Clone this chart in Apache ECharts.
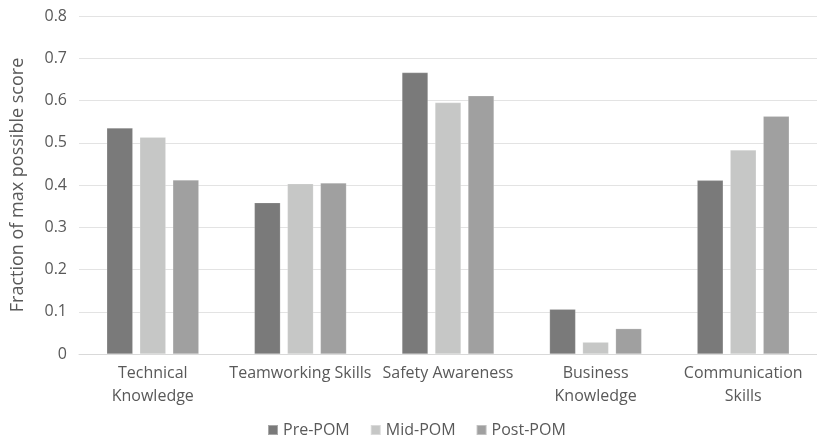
<!DOCTYPE html>
<html>
<head>
<meta charset="utf-8">
<script src="https://cdn.jsdelivr.net/npm/echarts@6/dist/echarts.min.js"></script>
<style>
  html, body { margin: 0; padding: 0; background: #fff; }
  #chart { width: 817px; height: 436px; }
</style>
</head>
<body>
<div id="chart"></div>
<script>
// Skill areas, assessed at three stages
const categories = ['Technical\nKnowledge', 'Teamworking Skills', 'Safety Awareness', 'Business\nKnowledge', 'Communication\nSkills'];
const preValues  = [0.535, 0.358, 0.666, 0.106, 0.411];
const midValues  = [0.513, 0.403, 0.595, 0.028, 0.483];
const postValues = [0.412, 0.405, 0.611, 0.060, 0.563];
const seriesNames = ['Pre-POM', 'Mid-POM', 'Post-POM'];
const yTicks = [0, 0.1, 0.2, 0.3, 0.4, 0.5, 0.6, 0.7, 0.8];

const textColor = '#595959';
const fontFamily = '"Open Sans", "Noto Sans", sans-serif';
const colors = ['#7a7a7a', '#c6c7c6', '#a0a0a0'];

const chart = echarts.init(document.getElementById('chart'));
const data = [preValues, midValues, postValues];

chart.setOption({
  animation: false,
  textStyle: { fontFamily: fontFamily, color: textColor },
  grid: { left: 79, top: 16, width: 742, height: 338 },
  legend: {
    top: 417,
    left: 262,
    itemWidth: 10,
    itemHeight: 10,
    itemGap: 20,
    icon: 'rect',
    textStyle: { fontSize: 16, color: textColor, fontFamily: fontFamily, padding: [0, 0, 0, 0] },
    data: seriesNames
  },
  xAxis: {
    type: 'category',
    data: categories,
    axisLine: { lineStyle: { color: '#d9d9d9', width: 1 } },
    axisTick: { show: false },
    axisLabel: { fontSize: 16, color: textColor, lineHeight: 23, margin: 8, interval: 0 }
  },
  yAxis: {
    type: 'value',
    min: yTicks[0],
    max: yTicks[yTicks.length - 1],
    interval: 0.1,
    name: 'Fraction of max possible score',
    nameLocation: 'middle',
    nameGap: 52,
    nameTextStyle: { fontSize: 18, color: textColor },
    axisLine: { show: false },
    axisTick: { show: false },
    splitLine: { lineStyle: { color: '#e3e3e3', width: 1 } },
    axisLabel: {
      fontSize: 16,
      color: textColor,
      margin: 12,
      formatter: v => {
        const r = Math.round(v * 10) / 10;
        return r === 0 ? '0' : r.toFixed(1);
      }
    }
  },
  series: seriesNames.map((name, i) => ({
    name: name,
    type: 'bar',
    data: data[i],
    barWidth: 26,
    barGap: '27%',
    itemStyle: { color: colors[i], borderColor: 'rgba(255,255,255,0.35)', borderWidth: 0.5 }
  }))
});
</script>
</body>
</html>
